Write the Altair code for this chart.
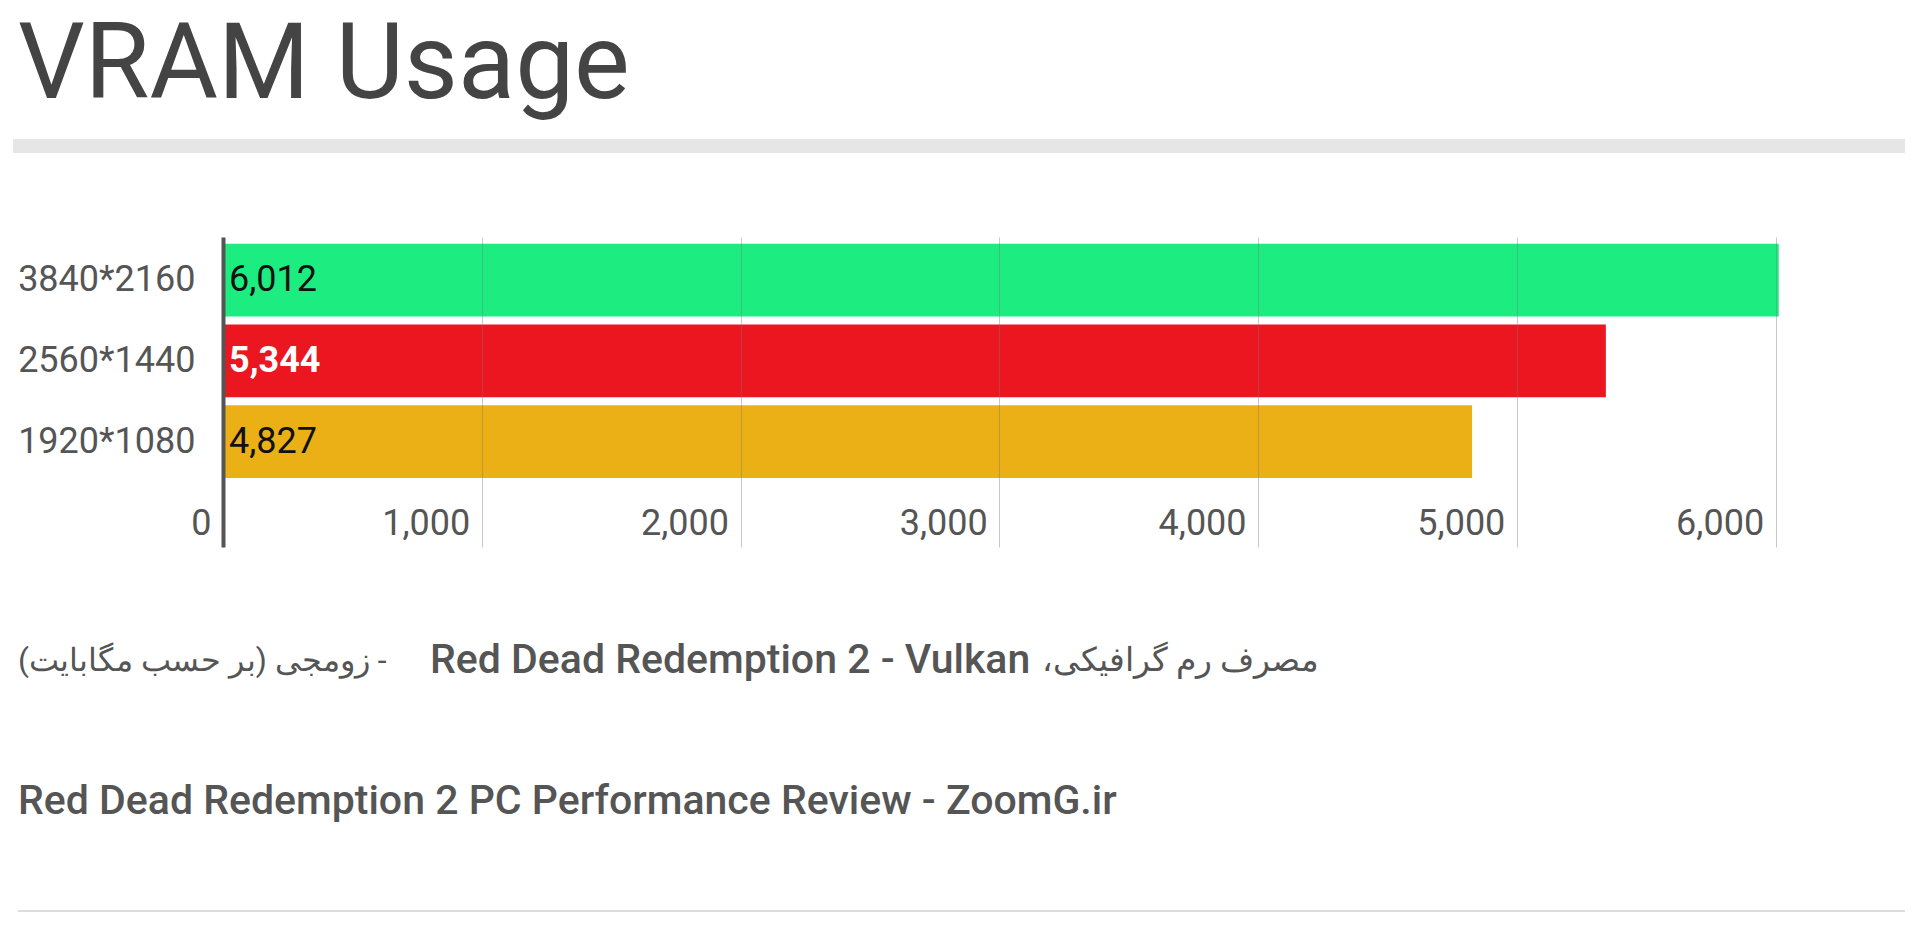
import altair as alt
import pandas as pd

# ---- data ----
resolutions = ["3840*2160", "2560*1440", "1920*1080"]
vram_mb = [6012, 5344, 4827]
bar_colors = ["#1dec80", "#eb1620", "#ebb016"]
label_colors = ["#111111", "#ffffff", "#111111"]
label_bold = [False, True, False]
x_ticks = [0, 1000, 2000, 3000, 4000, 5000, 6000]

title_text = "VRAM Usage"
caption_1_left = "\u202B- زومجی (بر حسب مگابایت)\u202C"
caption_1_mid = "Red Dead Redemption 2 - Vulkan"
caption_1_right = "\u202Bمصرف رم گرافیکی،\u202C"
caption_2 = "Red Dead Redemption 2 PC Performance Review - ZoomG.ir"

W, H = 1682, 310
FONT = "Roboto"

df = pd.DataFrame({
    "res": resolutions,
    "vram": vram_mb,
    "color": bar_colors,
    "lcolor": label_colors,
    "bold": label_bold,
})
df["label"] = [f"{v:,}" for v in vram_mb]

y_enc = alt.Y(
    "res:N",
    sort=resolutions,
    scale=alt.Scale(paddingInner=0.1, paddingOuter=0.47, align=0.09),
    axis=alt.Axis(
        title=None, labelFont=FONT, labelFontSize=36, labelColor="#555555",
        labelPadding=28, ticks=False, tickSize=0, domainColor="#555555",
        domainWidth=4, grid=False, zindex=1,
    ),
)
x_enc = alt.X(
    "vram:Q",
    scale=alt.Scale(domain=[0, 6500], nice=False),
    axis=alt.Axis(
        title=None, values=x_ticks, format=",d", labelAlign="right",
        labelBaseline="middle", labelOffset=-12, labelPadding=-24,
        labelFontSize=36, labelColor="#555555", labelFont=FONT,
        labelFlush=False, labelOverlap=False,
        ticks=False, tickSize=0, domain=False, grid=True,
        gridColor="#777777", gridOpacity=0.4, gridWidth=1, zindex=1,
    ),
)

base = alt.Chart(df)

bars = base.mark_bar().encode(
    y=y_enc,
    x=x_enc,
    color=alt.Color("color:N", scale=None, legend=None),
)

labels_dark = base.transform_filter("!datum.bold").mark_text(
    align="left", baseline="middle", dx=6, fontSize=36, font=FONT, fontWeight="normal"
).encode(
    y=alt.Y("res:N", sort=resolutions),
    x=alt.datum(0),
    text="label:N",
    color=alt.Color("lcolor:N", scale=None, legend=None),
)
labels_light = base.transform_filter("datum.bold").mark_text(
    align="left", baseline="middle", dx=6, fontSize=36, font=FONT, fontWeight="bold"
).encode(
    y=alt.Y("res:N", sort=resolutions),
    x=alt.datum(0),
    text="label:N",
    color=alt.Color("lcolor:N", scale=None, legend=None),
)

one = alt.Chart(pd.DataFrame({"k": [0]}))

band = one.mark_rect(color="#e6e6e6").encode(
    x=alt.value(-210), x2=alt.value(W), y=alt.value(-98), y2=alt.value(-84)
)
bottom_rule = one.mark_rule(color="#dddddd", strokeWidth=2).encode(
    x=alt.value(-205), x2=alt.value(W), y=alt.value(674)
)
cap1a = one.mark_text(
    align="left", baseline="middle", fontSize=32, font=FONT, fontWeight="normal", color="#555555"
).encode(x=alt.value(-205), y=alt.value(424), text=alt.value(caption_1_left))
cap1b = one.mark_text(
    align="left", baseline="middle", fontSize=41, font=FONT, fontWeight=500, color="#555555"
).encode(x=alt.value(207), y=alt.value(424), text=alt.value(caption_1_mid))
cap1c = one.mark_text(
    align="left", baseline="middle", fontSize=33, font=FONT, fontWeight="normal", color="#555555"
).encode(x=alt.value(819), y=alt.value(424), text=alt.value(caption_1_right))
cap2 = one.mark_text(
    align="left", baseline="middle", fontSize=41, font=FONT, fontWeight=500, color="#555555"
).encode(x=alt.value(-205), y=alt.value(565), text=alt.value(caption_2))

chart = alt.layer(
    band, bars, labels_dark, labels_light, cap1a, cap1b, cap1c, cap2, bottom_rule
).properties(
    width=W,
    height=H,
    title=alt.TitleParams(
        text=title_text, anchor="start", frame="group", fontSize=105,
        font=FONT, fontWeight="normal", color="#444444", offset=19, dx=-205,
    ),
    autosize=alt.AutoSizeParams(type="none"),
    padding={"left": 215, "top": 229, "right": 2, "bottom": 365},
).configure(background="white").configure_view(strokeWidth=0)

chart.save("out.html", embed_options={"renderer": "svg", "actions": False})
